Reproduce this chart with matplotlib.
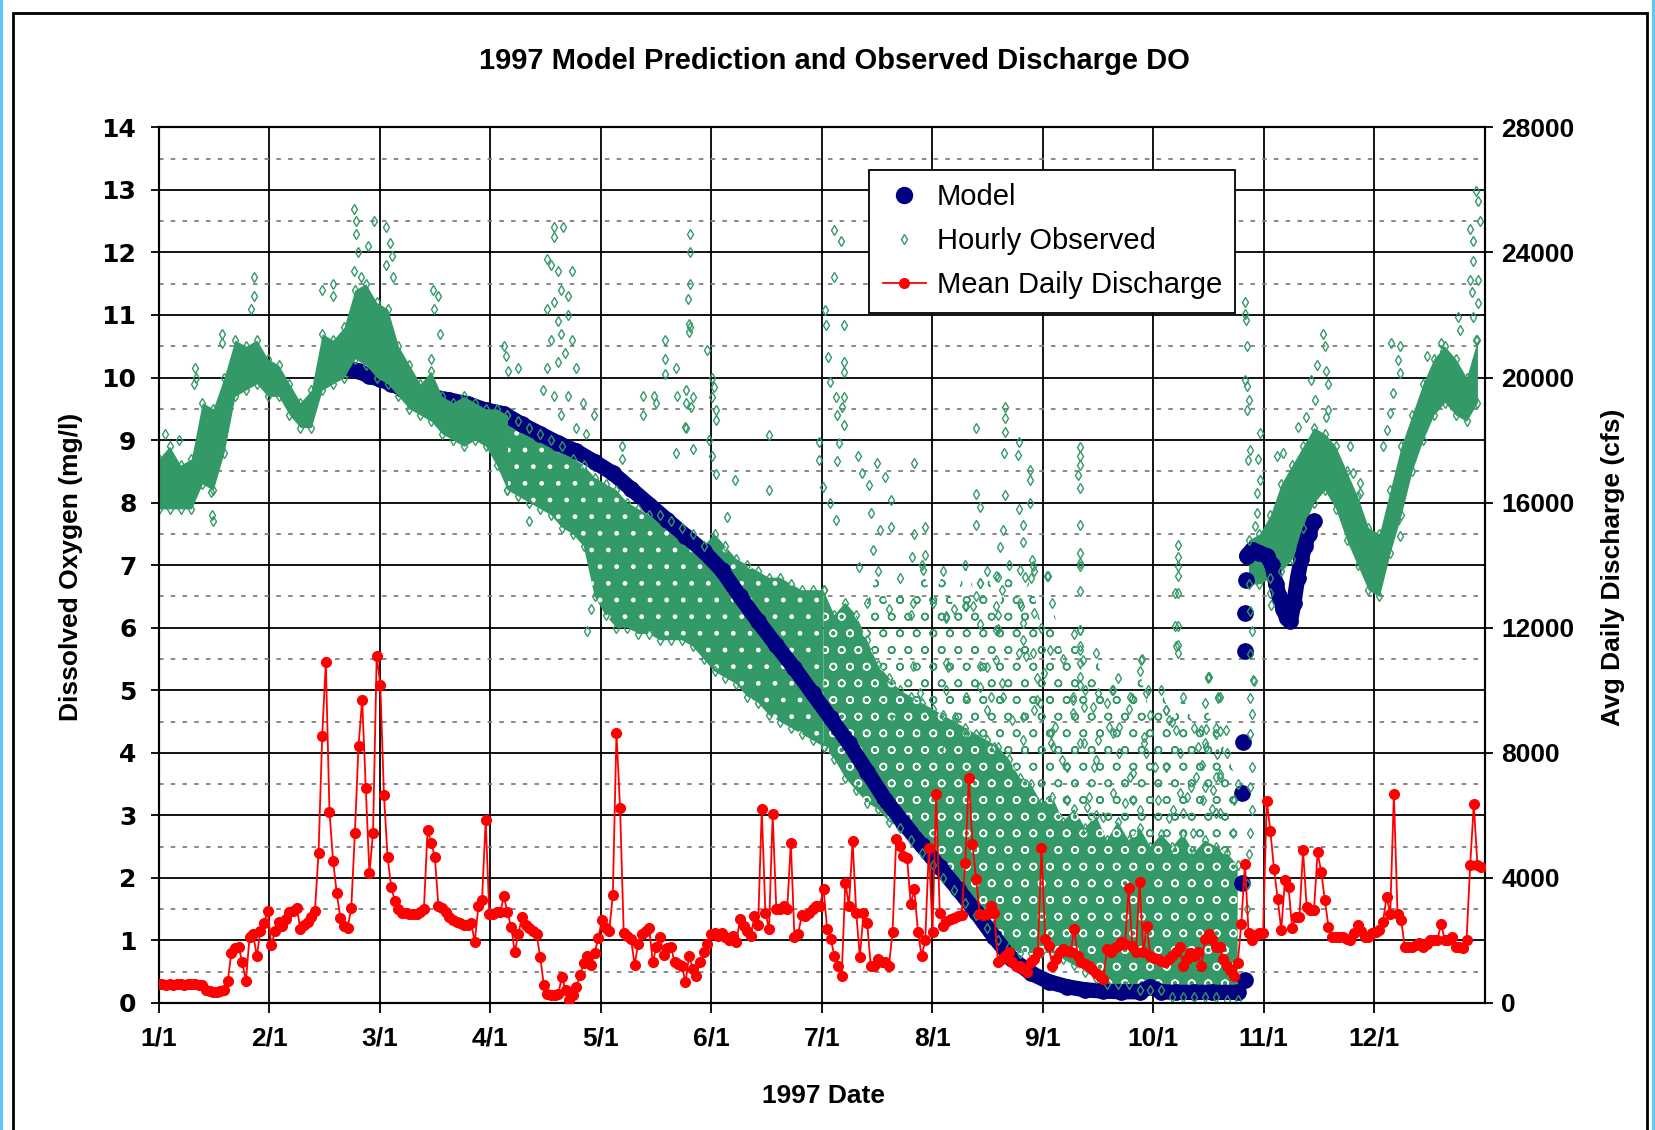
import numpy as np
import matplotlib
matplotlib.use('Agg')
import matplotlib.pyplot as plt
from matplotlib.lines import Line2D
from matplotlib.patches import Rectangle

# %% data  (x = days after 1/1, DO in mg/l, discharge in cfs)
month_labels = ['1/1', '2/1', '3/1', '4/1', '5/1', '6/1',
                '7/1', '8/1', '9/1', '10/1', '11/1', '12/1']

# mean daily discharge, one value per day
q_jan = [600, 600, 590, 610, 590, 600, 600, 590, 600, 610, 600, 590, 560, 420, 380,
         360, 360, 380, 400, 700, 1600, 1750, 1800, 1300, 700, 2100, 2200, 1500, 2300, 2550, 2950]
q_feb = [1850, 2300, 2600, 2450, 2700, 2900, 2950, 3050, 2350, 2500, 2600, 2750, 2950, 4800,
         8540, 10900, 6120, 4550, 3520, 2720, 2450, 2400, 3040, 5440, 8220, 9690, 6870, 4160]
q_mar = [5440, 11100, 10170, 6650, 4670, 3710, 3270, 3000, 2870, 2870, 2850, 2850, 2850, 2900,
         3000, 5530, 5120, 4670, 3100, 3050, 2900, 2750, 2650, 2600, 2550, 2500, 2500, 2550, 1960, 3100, 3300]
q_apr = [5850, 2850, 2850, 2900, 2900, 3420, 2900, 2440, 1640, 2200, 2760, 2500, 2400, 2300, 2200,
         1480, 580, 300, 260, 260, 300, 840, 400, 100, 250, 500, 900, 1280, 1500, 1200]
q_may = [1600, 2080, 2650, 2400, 2300, 3450, 8630, 6230, 2240, 2150, 2050, 1220, 1900, 2200, 2300,
         2400, 1300, 1800, 2100, 1550, 1750, 1800, 1300, 1250, 1190, 660, 1510, 1080, 870, 1300, 1620]
q_jun = [1900, 2200, 2250, 2150, 2250, 2100, 2000, 2150, 1950, 2680, 2470, 2300, 2150, 2790, 2500,
         6190, 2890, 2360, 6030, 3000, 3000, 3110, 3000, 5130, 2100, 2200, 2800, 2790, 2890, 3000]
q_jul = [3110, 3110, 3640, 2360, 2040, 1500, 1190, 870, 3850, 3110, 5180, 2890, 1460, 2890, 2570,
         1190, 1190, 1400, 1300, 1300, 1190, 2260, 5240, 5020, 4700, 4650, 3160, 3640, 2260, 1510, 2000]
q_aug = [4970, 2260, 6670, 2890, 2470, 2630, 2700, 2730, 2790, 2800, 4490, 7200, 5080, 3960, 2840,
         2800, 2840, 3110, 2890, 1300, 1400, 1500, 1620, 1300, 1190, 1190, 1085, 980, 1300, 1400, 1620]
q_sep = [4970, 2040, 1830, 1190, 1400, 1620, 1720, 1650, 1620, 2360, 1510, 1300, 1250, 1190, 1085,
         950, 870, 770, 1720, 1620, 1750, 1830, 1940, 1900, 3690, 1830, 1620, 3870, 1620, 2470]
q_oct = [1510, 1450, 1400, 1350, 1300, 1400, 1500, 1620, 1800, 1190, 1400, 1590, 1510, 1620, 1170,
         2040, 2200, 2040, 1800, 1800, 1400, 1190, 1060, 850, 1270, 2540, 4450, 2230, 2010, 2170, 2230]
q_nov = [2230, 6470, 5510, 4290, 3340, 2330, 3920, 3710, 2390, 2760, 2760, 4880, 3070, 2970, 2970,
         4820, 4190, 3290, 2440, 2120, 2120, 2120, 2120, 2050, 2010, 2230, 2490, 2300, 2120, 2120]
q_dec = [2230, 2280, 2330, 2600, 3390, 2860, 6680, 2860, 2650, 1800, 1800, 1800, 1850, 1910, 1800,
         1900, 2010, 2000, 2010, 2540, 2010, 2010, 2120, 1800, 1800, 1750, 2010, 4400, 6360, 4400, 4350]

q_daily = q_jan + q_feb + q_mar + q_apr + q_may + q_jun + q_jul + q_aug + q_sep + q_oct + q_nov + q_dec
q_day = np.arange(len(q_daily))

# model prediction
model_day = [52.5, 55, 58, 61, 64, 67, 70, 75, 80, 85, 90, 95, 100, 105, 110, 115, 120, 125, 130,
             135, 140, 145, 150, 155, 160, 165, 170, 175, 180, 185, 190, 195, 200, 205, 210, 215,
             220, 225, 230, 235, 240, 245, 250, 255, 260, 265, 270, 273, 276, 280, 285, 290, 297]
model_do = [10.15, 10.1, 10.02, 9.97, 9.9, 9.82, 9.76, 9.7, 9.64, 9.58, 9.48, 9.42, 9.25, 9.1, 8.95,
            8.82, 8.65, 8.47, 8.22, 7.97, 7.72, 7.47, 7.22, 6.92, 6.5, 6.1, 5.72, 5.35, 4.95, 4.55,
            4.15, 3.7, 3.25, 2.88, 2.52, 2.17, 1.82, 1.45, 1.05, 0.7, 0.48, 0.34, 0.26, 0.21, 0.19,
            0.18, 0.18, 0.26, 0.18, 0.17, 0.17, 0.17, 0.17]
restart_day = [299.0, 298.1, 298.1, 298.5, 299.0, 299.0, 299.4]
restart_do = [0.37, 1.92, 3.36, 4.18, 5.62, 6.23, 6.76]
nov_day = [299.5, 301, 303, 305, 306.5, 307.5, 308.5, 309.5, 310.5, 311.5, 312.5, 313.5, 314.5,
           315.5, 316.5, 318]
nov_do = [7.15, 7.25, 7.2, 7.15, 7.0, 6.7, 6.5, 6.3, 6.15, 6.1, 6.4, 6.8, 7.1, 7.3, 7.5, 7.7]

# hourly observed: dense band, low / high edge every 3 days
winter_day = list(range(0, 97, 3))
winter_lo = [7.9, 7.9, 7.9, 7.9, 8.3, 8.2, 8.8, 9.7, 9.8, 9.9,
             9.7, 9.7, 9.4, 9.2, 9.2, 9.8, 9.9, 10.0, 10.3, 10.2,
             10.0, 9.9, 9.7, 9.5, 9.4, 9.3, 9.1, 9.0, 8.9, 9.0,
             8.9, 8.6, 8.2]
winter_hi = [8.7, 8.9, 8.6, 8.7, 9.6, 9.5, 10.0, 10.6, 10.5, 10.6,
             10.3, 10.2, 9.9, 9.6, 9.8, 10.7, 10.6, 10.8, 11.4, 11.5,
             11.2, 11.1, 10.5, 10.2, 9.9, 10.1, 9.7, 9.6, 9.7, 9.6,
             9.5, 9.5, 9.4]
spring_day = list(range(96, 184, 3))
spring_lo = [8.2, 8.1, 8.0, 7.9, 7.8, 7.6, 7.5, 7.3, 6.5, 6.2,
             6.0, 6.0, 5.9, 5.9, 5.8, 5.8, 5.8, 5.7, 5.5, 5.3,
             5.2, 5.1, 4.9, 4.8, 4.6, 4.5, 4.4, 4.3, 4.2, 4.1]
spring_hi = [9.4, 9.3, 9.2, 9.1, 9.0, 8.9, 8.7, 8.6, 8.4, 8.3,
             8.2, 8.0, 7.9, 7.8, 7.8, 7.7, 7.6, 7.5, 7.3, 7.5,
             7.3, 7.1, 7.0, 6.9, 6.8, 6.8, 6.7, 6.6, 6.6, 6.6]
summer_day = list(range(183, 298, 3))
summer_lo = [4.1, 3.9, 3.6, 3.4, 3.2, 3.1, 2.9, 2.8, 2.6, 2.4,
             2.2, 2.0, 1.8, 1.6, 1.4, 1.2, 1.0, 0.9, 0.8, 0.8,
             0.8, 0.8, 0.7, 0.6, 0.5, 0.4, 0.3, 0.3, 0.3, 0.2,
             0.2, 0.2, 0.1, 0.1, 0.1, 0.1, 0.1, 0.05, 0.05]
summer_hi = [6.6, 6.2, 6.4, 6.2, 5.8, 5.4, 5.2, 5.0, 4.9, 4.8,
             4.7, 4.6, 4.5, 4.4, 4.3, 4.2, 4.1, 3.9, 3.6, 3.5,
             3.2, 3.3, 2.9, 3.1, 2.8, 3.0, 2.6, 2.9, 2.6, 2.8,
             2.5, 2.7, 2.5, 2.7, 2.4, 2.6, 2.5, 2.4, 2.2]
# sparse upper part of the summer / fall cloud (top edge; bottom edge is summer_hi)
halo_day = list(range(195, 298, 3))
halo_hi = [6.4, 6.9, 6.3, 6.8, 6.2, 7.0, 6.4, 6.9, 6.3, 7.0,
           6.5, 6.9, 6.2, 7.0, 6.4, 6.8, 6.0, 6.4, 5.5, 5.9,
           5.0, 5.6, 4.8, 5.2, 4.7, 5.3, 4.6, 5.0, 4.5, 4.9,
           4.4, 4.8, 4.3, 4.0, 3.5]
late_day = list(range(300, 364, 3))
late_lo = [6.7, 6.7, 6.8, 6.9, 7.1, 7.6, 8.0, 8.2, 7.9, 7.4, 7.0,
           6.6, 6.5, 7.2, 7.8, 8.5, 9.0, 9.4, 9.6, 9.4, 9.3, 9.6]
late_hi = [7.4, 7.5, 7.8, 8.3, 8.6, 8.9, 9.2, 9.1, 8.9, 8.5, 8.1,
           7.6, 7.5, 8.2, 8.9, 9.4, 9.9, 10.3, 10.5, 10.3, 10.0, 10.6]

# hourly observed: scattered readings outside the band (day, DO)
obs_winter = [(1.7, 9.1), (5.7, 9.0), (10.1, 10.15), (10.2, 10.0), (9.8, 9.9), (14.5, 8.17),
              (14.8, 7.8), (15.0, 7.7), (17.3, 10.7), (17.5, 10.55), (26.3, 11.6), (26.1, 11.3),
              (25.3, 11.1), (45, 11.4), (47.9, 11.5), (48, 11.3), (53.8, 12.7), (54.3, 12.5),
              (54.3, 12.3), (54.8, 12.0), (57.7, 12.1), (59.2, 12.5), (62.7, 12.4), (63.6, 12.15),
              (64.1, 11.95), (64.6, 11.6), (62.7, 11.8), (53.8, 11.7), (55.8, 11.6), (75.4, 11.4),
              (76.9, 11.3), (75.9, 11.1), (77.4, 10.7), (74.9, 10.3)]
obs_spring = [(95.1, 10.5), (95.6, 10.35), (96.1, 10.1), (99, 10.15), (108.9, 12.4), (111.3, 12.4),
              (108.9, 12.25), (107.9, 11.8), (106.9, 11.9), (109.8, 11.7), (113.8, 11.7),
              (110.8, 11.4), (112.8, 11.3), (108.9, 11.2), (106.9, 11.1), (109.8, 10.9),
              (112.8, 11.0), (110.8, 10.7), (113.8, 10.6), (107.9, 10.6), (111.8, 10.4),
              (109.8, 10.25), (106.9, 10.15), (114.8, 10.15), (105.9, 9.8), (108.9, 9.7),
              (112.8, 9.7), (116.7, 9.6), (110.8, 9.4), (114.8, 9.2), (119.7, 9.4), (117.7, 9.1),
              (102, 7.7), (127.5, 8.9), (127.5, 8.7), (133.4, 9.7), (133.4, 9.4), (136.4, 9.7),
              (136.9, 9.6), (139.3, 10.6), (139.3, 10.3), (139.3, 10.05), (142.3, 10.15),
              (142.8, 9.7), (145.2, 9.8), (145.2, 9.6), (146.2, 12.3), (146.2, 12.0), (146.2, 11.5),
              (145.7, 11.25), (146.2, 10.8), (145.2, 9.2), (142.3, 8.8), (147.2, 8.85), (118, 5.95),
              (119, 6.3)]
obs_summer = [(146, 10.85), (146, 10.73), (150.9, 10.44), (152.3, 10.0), (152.8, 9.85),
              (152.3, 9.69), (153.3, 9.48), (153.3, 9.32), (145, 9.21), (147, 9.69), (146.5, 9.53),
              (151.4, 9.0), (152.3, 8.74), (153.3, 8.46), (158.7, 8.36), (168, 8.2), (168, 9.08),
              (156.3, 7.77), (185.8, 12.36), (187.9, 12.19), (186, 11.6), (183.3, 11.08),
              (183.8, 10.84), (188.7, 10.84), (184.3, 10.33), (188.7, 10.25), (188.7, 10.09),
              (184.8, 9.93), (186.3, 9.69), (188.7, 9.69), (188.2, 9.53), (186.8, 9.4),
              (188.7, 9.24), (181.8, 8.97), (187.2, 8.95), (181.8, 8.68), (186.8, 8.66),
              (192.6, 8.74), (197.6, 8.63), (207.9, 8.63), (193.6, 8.47), (195.6, 8.28),
              (200, 8.41), (201.5, 8.04), (196.1, 7.83), (182.8, 8.25), (184.8, 7.99), (186.3, 7.72),
              (198.5, 7.56), (201.5, 7.61), (207.9, 7.5), (210.8, 7.61), (207.4, 7.13),
              (210.8, 7.16), (196.6, 7.24), (192.7, 6.97)]
obs_late_summer = [(233, 9.53), (233, 9.35), (233, 9.13), (224.9, 9.19), (236.9, 8.97),
                   (232.8, 8.79), (236.4, 8.76), (239.8, 8.52), (239.8, 8.36), (224.9, 8.14),
                   (233, 8.12), (226.1, 7.93), (236.9, 7.9), (239.8, 7.99), (224.9, 7.64),
                   (232.5, 7.56), (237.9, 7.64), (231.5, 7.29), (237.9, 7.37), (240.3, 7.08),
                   (240.8, 6.9), (238.4, 6.81), (231, 6.81), (226.1, 6.71), (232, 6.6),
                   (222.1, 6.34), (224.1, 6.34), (230.5, 6.34), (237.4, 6.34), (240.8, 6.23),
                   (216.7, 6.15), (231, 5.98), (226.1, 6.06), (253.6, 8.89), (253.6, 8.74),
                   (253.6, 8.6), (253.1, 8.44), (253.6, 8.23), (253.6, 7.64), (253.6, 7.19),
                   (253.6, 6.98), (253.6, 6.58), (253.6, 5.96), (253.6, 5.64), (253.6, 5.43),
                   (253.6, 5.22), (253.6, 5.09), (280.6, 7.32), (280.6, 7.13), (280.6, 6.98),
                   (280.6, 6.82), (280.6, 6.55), (280.6, 6.02), (280.6, 5.73), (280.6, 5.6),
                   (270.8, 5.5), (289, 5.22), (292, 4.9), (244.7, 6.82), (243.8, 5.27), (241.8, 5.2),
                   (237.9, 5.8), (236.9, 5.6), (228, 5.37), (232, 5.11), (217.2, 5.37), (229, 4.9),
                   (237.9, 4.58), (241.8, 4.84), (251.6, 4.84), (254.6, 4.74), (258.5, 4.95),
                   (262.4, 5.0), (267.9, 4.87), (272.3, 5.0), (277.2, 4.69), (280.1, 4.37),
                   (287, 4.37), (291, 4.4), (246.7, 4.42), (245.7, 4.15), (258.5, 4.2), (264.4, 4.42),
                   (271.3, 4.15), (286, 4.1)]
obs_aug_oct = [(210.4, 6.92), (226, 6.71), (230.6, 6.82), (237, 6.92), (240.7, 6.98), (253.5, 7.03),
               (244.4, 6.82), (207.7, 6.39), (216.8, 6.18), (221.9, 6.34), (230.6, 5.97),
               (237.9, 6.07), (253.5, 5.96), (279.7, 6.55), (279.7, 6.02), (207.7, 5.38),
               (216.8, 5.43), (226, 5.38), (230.6, 5.49), (238.8, 5.54), (240.7, 5.59),
               (245.3, 5.64), (253.5, 5.7), (254.4, 5.49), (270.5, 5.49), (280.1, 5.7),
               (288.8, 5.22), (209.5, 4.95), (216.8, 5.0), (222.3, 4.9), (226, 5.06), (232.4, 4.9),
               (242.5, 4.79), (251.7, 4.9), (257.2, 4.74), (262.7, 5.0), (267.3, 4.9), (271.9, 4.95),
               (277.4, 4.68), (291.6, 4.9), (301.2, 5.16), (246.2, 4.1), (249.9, 3.78),
               (253.5, 4.15), (258.1, 3.88), (262.7, 4.31), (268.2, 3.67), (271.9, 3.99),
               (277.4, 3.78), (281, 3.35), (285.6, 3.62), (288.4, 4.1), (292, 3.62), (291.1, 3.03),
               (287.4, 3.24), (279.2, 3.09), (268.2, 3.24), (262.7, 3.35), (255.4, 3.14),
               (249.9, 3.24)]
obs_fall = [(198.5, 4.74), (202.5, 4.52), (207.4, 4.74), (212.3, 4.63), (210.3, 4.31), (216.2, 4.04),
            (219.2, 4.58), (222.1, 4.31), (228, 4.68), (230, 4.1), (234.9, 4.52), (237.9, 4.2),
            (240.8, 4.68), (245.7, 4.31), (248.7, 3.88), (251.6, 4.63), (254.6, 4.15), (257.5, 3.78),
            (261.5, 4.42), (264.4, 3.99), (267.4, 3.62), (271.3, 4.26), (274.2, 3.78), (278.2, 4.52),
            (281.1, 3.99), (284.1, 3.46), (288, 4.15), (291, 3.62), (293.9, 4.36), (295.9, 3.24),
            (244.5, 3.1), (250, 3.24), (256, 3.3), (260, 2.97), (266, 3.2), (270, 3.08), (275, 3.24),
            (278, 2.95), (283, 3.3), (290, 3.1), (288.9, 5.2), (291.6, 4.88), (288.4, 4.38),
            (292.1, 4.35), (287.1, 3.8), (291.2, 3.98), (292.1, 3.66), (288, 3.45), (290.3, 3.4),
            (292.1, 3.03), (284.8, 2.71), (282, 3.03), (295.8, 2.71)]
obs_nov = [(300.5, 6.26), (301, 5.95), (300.5, 5.58), (301.5, 5.15), (300.5, 4.88), (301, 4.62),
           (300.5, 4.3), (301, 3.77), (300.5, 3.45), (301, 3.08), (300.5, 2.71), (300, 2.39),
           (299.5, 1.9), (299.5, 1.5), (300, 1.1), (299, 11.21), (299, 11.02), (299.3, 10.92),
           (299.5, 10.5), (299, 9.96), (299.5, 9.86), (300, 9.64), (299.5, 9.48), (303.1, 9.11),
           (300.4, 8.84), (299.9, 8.68), (302.6, 8.7), (303.1, 8.36), (302.2, 8.15), (302.2, 7.83),
           (301.7, 7.62), (305.9, 6.55), (306.3, 6.36), (309.5, 8.79), (307.7, 8.74),
           (313.7, 9.21), (315.9, 9.37), (317.3, 9.96), (318.7, 10.2), (320.5, 10.7), (321, 10.5),
           (321.4, 10.1), (321.9, 9.9), (321.9, 9.48), (318.2, 9.64), (321.4, 9.37), (327.9, 8.9),
           (328.8, 8.47), (330.6, 8.31), (330.6, 8.15)]
obs_dec = [(339.3, 10.55), (341.6, 10.5), (341.2, 10.28), (341.6, 10.07), (339.8, 9.75),
           (338.9, 9.43), (338, 9.16), (337, 8.9), (341.2, 7.73), (341.6, 7.46), (349, 10.34),
           (353.1, 10.55), (353.5, 10.43), (362.7, 12.99), (363.2, 12.83), (363.6, 12.51),
           (360.9, 12.38), (361.8, 12.19), (361.8, 11.87), (360.9, 11.56), (361.4, 11.37),
           (361.8, 10.97), (357.7, 10.97), (358.1, 10.76), (363.2, 11.56), (363.2, 11.19),
           (362.7, 10.6)]

# %% plot
green = '#339966'
navy = '#000080'
red = '#ff0000'
sans = ['Liberation Sans', 'DejaVu Sans']
plt.rcParams['hatch.linewidth'] = 1.0

fig = plt.figure(figsize=(16.55, 11.3), dpi=100)
ax = fig.add_axes([0.0959, 0.1124, 0.8012, 0.7749])
ax2 = ax.twinx()

diamond = dict(ls='none', marker='d', ms=5.5, mfc='none', mec=green, mew=1.0, zorder=3.5)
bands = [(winter_day, winter_lo, winter_hi, None, 3.4),
         (spring_day, spring_lo, spring_hi, '.', 2),
         (summer_day, summer_lo, summer_hi, 'o', 2),
         (late_day, late_lo, late_hi, None, 2)]
for d, lo, hi, hatch, z in bands:
    ax.fill_between(d, lo, hi, facecolor=green, edgecolor='white', hatch=hatch, lw=0, zorder=z)
    ax.plot(d, lo, **diamond)
    ax.plot(d, hi, **diamond)
# sparse part of the cloud above the dense band
ax.fill_between(halo_day, summer_hi[4:], halo_hi, facecolor='none', edgecolor=green,
                hatch='o', lw=0, zorder=1.9)
ax.plot(halo_day, halo_hi, **diamond)
for pts in [obs_winter, obs_spring, obs_summer, obs_late_summer, obs_aug_oct, obs_fall,
            obs_nov, obs_dec]:
    x, y = zip(*pts)
    ax.plot(x, y, **diamond)

ax.plot(model_day, model_do, color=navy, lw=11, marker='o', ms=11,
        solid_capstyle='round', zorder=3)
ax.plot(restart_day, restart_do, ls='none', marker='o', ms=11, color=navy, zorder=3)
ax.plot(nov_day, nov_do, color=navy, lw=11, marker='o', ms=11,
        solid_capstyle='round', zorder=3)

ax2.plot(q_day, q_daily, color=red, lw=1.3, marker='o', ms=7, zorder=4)

# axes
step = 365/12
ax.set_xlim(0, 365)
ax.set_xticks(np.arange(12)*step)
ax.set_xticklabels(month_labels)
ax.set_ylim(0, 14)
ax.set_yticks(range(15))
ax.set_yticks(np.arange(0.5, 14, 1), minor=True)
ax2.set_ylim(0, 28000)
ax2.set_yticks(range(0, 28001, 4000))

ax.set_axisbelow(True)
ax.grid(which='major', color='black', lw=1.3)
ax.grid(which='minor', axis='y', color='#808080', ls=(0, (2.5, 4)), lw=1.3)
ax.tick_params(which='minor', length=0)
ax.tick_params(axis='x', direction='out', length=7, width=1.3, pad=10)
ax.tick_params(axis='y', direction='out', length=6, width=1.3, pad=10)
ax2.tick_params(axis='y', direction='out', length=6, width=1.3, pad=6)
for a in (ax, ax2):
    for s in a.spines.values():
        s.set_color('black')
        s.set_linewidth(1.5)

for lab in ax.get_xticklabels():
    lab.set_fontfamily(sans)
    lab.set_fontsize(19)
    lab.set_fontweight('bold')
for lab in ax.get_yticklabels():
    lab.set_fontfamily(['DejaVu Sans'])
    lab.set_fontsize(18)
    lab.set_fontweight('bold')
for lab in ax2.get_yticklabels():
    lab.set_fontfamily(sans)
    lab.set_fontsize(19)
    lab.set_fontweight('bold')

ax.set_ylabel('Dissolved Oxygen (mg/l)', family=sans, fontsize=19, fontweight='bold')
ax.yaxis.set_label_coords(-0.057, 0.498)
ax2.set_ylabel('Avg Daily Discharge (cfs)', family=sans, fontsize=19, fontweight='bold')
ax2.yaxis.set_label_coords(1.088, 0.498)
ax.set_xlabel('1997 Date', family=sans, fontsize=19, fontweight='bold')
ax.xaxis.set_label_coords(0.501, -0.0925)

fig.text(0.504, 0.946, '1997 Model Prediction and Observed Discharge DO',
         ha='center', va='center', family=sans, fontsize=21, fontweight='bold')

handles = [Line2D([], [], ls='none', marker='o', ms=11.5, color=navy),
           Line2D([], [], ls='none', marker='d', ms=5.5, mfc='none', mec=green, mew=1.0),
           Line2D([], [], color=red, lw=1.3, marker='o', ms=7)]
leg = ax2.legend(handles, ['Model', 'Hourly Observed', 'Mean Daily Discharge'],
                 loc='upper left', bbox_to_anchor=(0.536, 0.951), frameon=True,
                 fancybox=False, edgecolor='black', framealpha=1,
                 prop={'family': sans, 'size': 21}, handlelength=1.5,
                 handletextpad=0.35, labelspacing=0.55, borderpad=0.45, borderaxespad=0)
leg.get_frame().set_linewidth(1.3)
leg.set_zorder(10)

# outer chart frame
fig.patches.append(Rectangle((13/1655, -0.05), 1634/1655, 1.05 - 13/1130, transform=fig.transFigure,
                             fill=False, edgecolor='black', lw=2))
fig.patches.append(Rectangle((0, 0), 3/1655, 1, transform=fig.transFigure,
                             color='#5bc8f5', lw=0))
fig.patches.append(Rectangle((1652/1655, 0), 3/1655, 1, transform=fig.transFigure,
                             color='#5bc8f5', lw=0))

fig.savefig('out.png', dpi=100)
